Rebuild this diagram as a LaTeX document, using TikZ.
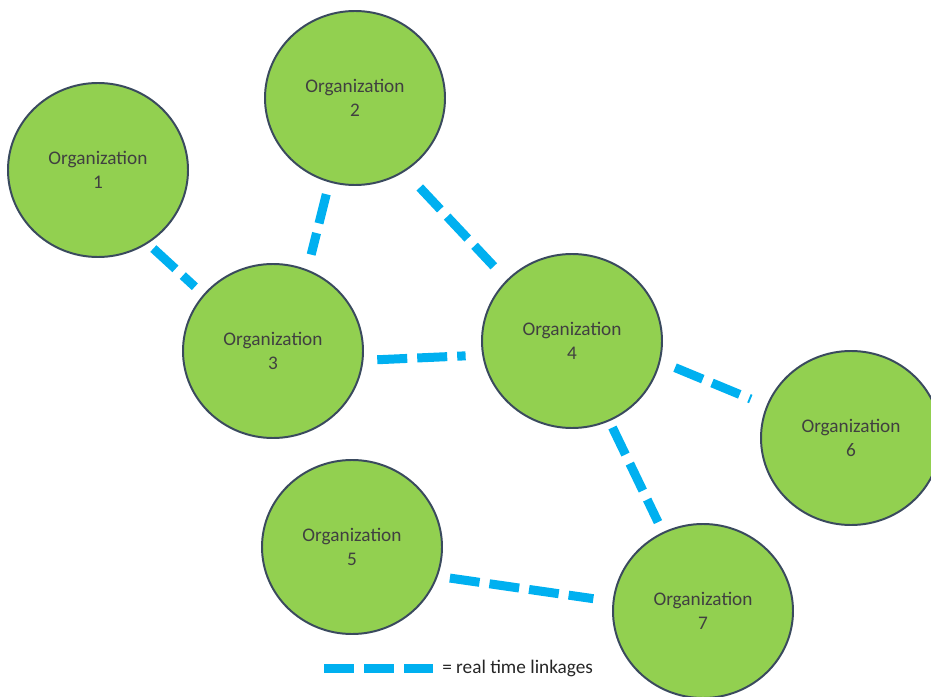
\documentclass[tikz,border=0pt]{standalone}
\usepackage{fontspec}
\setmainfont{Carlito}
\usetikzlibrary{shapes.geometric}

\definecolor{orggreen}{HTML}{92D050}
\definecolor{orgborder}{HTML}{3A4A5E}
\definecolor{orgtext}{HTML}{404040}
\definecolor{linkblue}{HTML}{00B0F0}

\begin{document}
\begin{tikzpicture}[
    org/.style={ellipse, draw=orgborder, line width=1.4pt, fill=orggreen,
      text=orgtext, minimum width=4.5cm, minimum height=4.35cm,
      inner sep=0pt, outer sep=0pt, align=center,
      font=\fontsize{13.7}{17}\selectfont},
    link/.style={draw=linkblue, line width=6.4pt,
      dash pattern=on 0.75cm off 0.25cm}
  ]
  \useasboundingbox (0,0) rectangle (23.275,17.4);

  % organizations
  \node[org] (o1) at (2.45,13.15)   {Organization\\1};
  \node[org] (o2) at (8.875,14.95)  {Organization\\2};
  \node[org] (o3) at (6.825,8.625)  {Organization\\3};
  \node[org] (o4) at (14.3,8.875)   {Organization\\4};
  \node[org] (o5) at (8.8,3.725)    {Organization\\5};
  \node[org] (o6) at (21.275,6.45)  {Organization\\6};
  \node[org] (o7) at (17.575,2.125) {Organization\\7};

  % real time linkages
  \draw[link, shorten <=0.21cm, shorten >=0.31cm] (o1.-56) -- (o3.141);
  \draw[link, shorten <=0.33cm, shorten >=0.41cm] (o2.253) -- (o3.67);
  \draw[link, shorten <=0.57cm, shorten >=0.49cm] (o2.-56) -- (o4.137);
  \draw[link, shorten <=0.37cm, shorten >=0.44cm] (o3.-6) -- (o4.-171);
  \draw[link, shorten <=0.42cm, shorten >=0.45cm] (o4.-13) -- (o6.159);
  \draw[link, shorten <=0.2cm, shorten >=0.3cm] (o4.-65) -- (o7.117);
  \draw[link, shorten <=0.33cm, shorten >=0.51cm] (o5.-19) -- (o7.174);

  % legend
  \coordinate (leg) at (8.1,0.7);
  \node[anchor=west, inner sep=0pt, text=black!85,
    font=\fontsize{13.7}{17}\selectfont] (legtext) at (11.05,0.7)
    {= real time linkages};
  \draw[link, shorten >=0.23cm] (leg) -- (legtext.west);
\end{tikzpicture}
\end{document}
